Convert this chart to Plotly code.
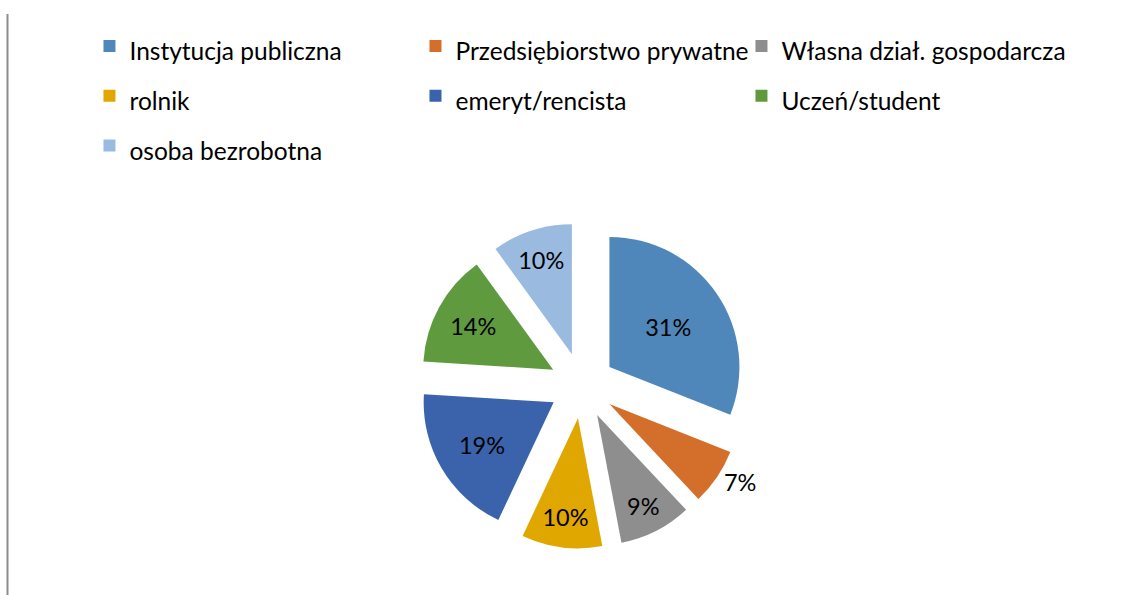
import plotly.graph_objects as go

labels = ["Instytucja publiczna", "Przedsiębiorstwo prywatne", "Własna dział. gospodarcza",
          "rolnik", "emeryt/rencista", "Uczeń/student", "osoba bezrobotna"]
values = [31, 7, 9, 10, 19, 14, 10]
colors = ["#4F87BA", "#D36F2A", "#8E8E8E", "#E0A700", "#3B63AC", "#5F9A3F", "#9ABAE0"]
text_positions = ["inside", "outside", "inside", "inside", "inside", "inside", "inside"]

FONT = "Lato, 'Open Sans', sans-serif"
# legend text shown at 24.5px while legend rows get the taller spacing of a 36px line
legend_labels = ["<span style='font-size:24.5px'>%s</span>" % s for s in labels]

fig = go.Figure(go.Pie(
    labels=legend_labels,
    customdata=labels,
    values=values,
    sort=False,
    direction="clockwise",
    rotation=0,
    pull=0.254,
    marker=dict(colors=colors, line=dict(width=0)),
    textinfo="percent",
    textposition=text_positions,
    insidetextorientation="horizontal",
    textfont=dict(family=FONT, size=23.5, color="#000000"),
    outsidetextfont=dict(family=FONT, size=23.5, color="#000000"),
    insidetextfont=dict(family=FONT, size=23.5, color="#000000"),
    domain=dict(x=[0.2, 0.815], y=[0.078, 0.626]),
    hovertemplate="%{customdata}: %{percent}<extra></extra>",
))

fig.update_layout(
    width=1147, height=595,
    margin=dict(l=0, r=0, t=0, b=0, autoexpand=False),
    paper_bgcolor="white",
    plot_bgcolor="white",
    font=dict(family=FONT, size=20, color="#000000"),
    legend=dict(
        orientation="h",
        x=0.078, y=0.973,
        xanchor="left", yanchor="top",
        font=dict(family=FONT, size=36, color="#000000"),
        itemwidth=30,
        entrywidth=281,
        bgcolor="rgba(0,0,0,0)",
    ),
    showlegend=True,
    shapes=[dict(type="line", xref="paper", yref="paper",
                 x0=7.5 / 1147, x1=7.5 / 1147, y0=0, y1=1 - 14 / 595,
                 line=dict(color="#8C8C8C", width=2))],
)

fig.write_html("out.html", config={"displayModeBar": False},
               post_script="document.body.style.margin='0px';")
